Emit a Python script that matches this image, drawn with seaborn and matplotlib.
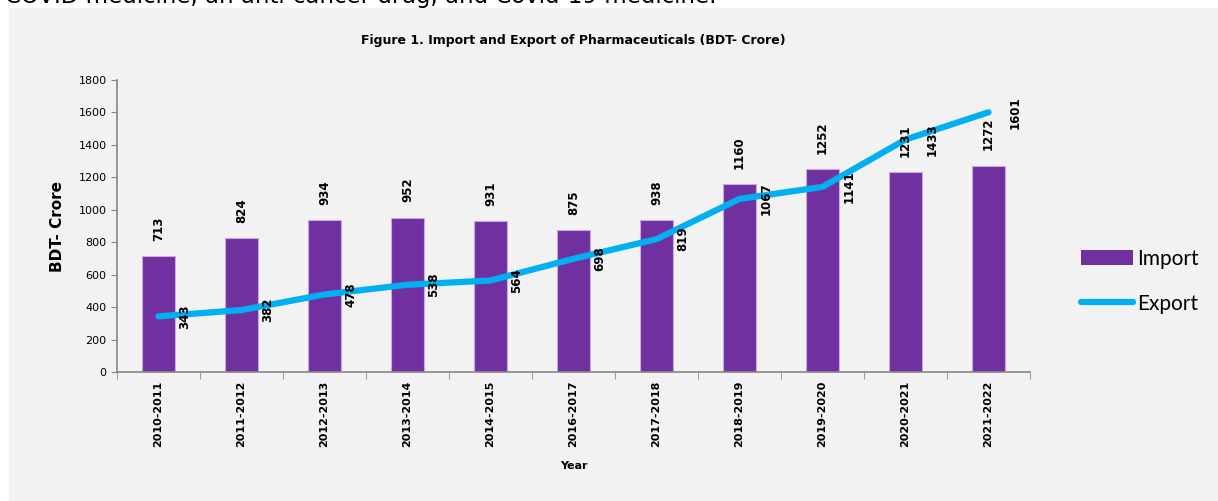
import matplotlib
matplotlib.use("Agg")
import matplotlib.pyplot as plt
from matplotlib.patches import Rectangle, Patch
from matplotlib.lines import Line2D
import pandas as pd
import seaborn as sns

# chart data
years = ["2010-2011", "2011-2012", "2012-2013", "2013-2014", "2014-2015", "2016-2017",
         "2017-2018", "2018-2019", "2019-2020", "2020-2021", "2021-2022"]
imports = [713, 824, 934, 952, 931, 875, 938, 1160, 1252, 1231, 1272]
exports = [343, 382, 478, 538, 564, 698, 819, 1067, 1141, 1433, 1601]

df = pd.DataFrame({"Year": years, "Import": imports, "Export": exports})

bg = "#f2f2f2"
bar_color = "#7030a0"
line_color = "#00b0f0"
axis_grey = "#868686"

sns.set_style("white", {"axes.facecolor": bg})
plt.rcParams["font.family"] = ["DejaVu Sans"]
plt.rcParams["text.color"] = "black"
plt.rcParams["axes.labelcolor"] = "black"

fig = plt.figure(figsize=(12.18, 5.01), dpi=100, facecolor="white")
fig.patches.append(Rectangle((9 / 1218, 0), 1, (501 - 8) / 501, transform=fig.transFigure,
                             facecolor=bg, edgecolor="none", zorder=-10))
ax = fig.add_axes([117 / 1218, (501 - 372) / 501, (1030 - 117) / 1218, (372 - 80) / 501])
ax.set_facecolor(bg)

# cut-off text from the page above the figure
fig.text(5 / 1218, 1 - 3 / 501, "COVID medicine, an anti-cancer drug, and Covid-19 medicine.",
         fontsize=16.5, va="baseline", ha="left", color="black")

sns.barplot(data=df, x="Year", y="Import", color=bar_color, width=0.4,
            edgecolor="#c9a8e6", linewidth=0.8, saturation=1, ax=ax, zorder=2)
sns.lineplot(data=df, x="Year", y="Export", color=line_color, linewidth=4.5,
             sort=False, ax=ax, zorder=3, solid_capstyle="round")

for i, v in enumerate(imports):
    ax.annotate(str(v), (i, v), xytext=(0, 11), textcoords="offset points",
                rotation=90, ha="center", va="bottom", fontsize=8.5, fontweight="bold")
for i, v in enumerate(exports):
    ax.annotate(str(v), (i, v), xytext=(19, 0), textcoords="offset points",
                rotation=90, ha="center", va="center", fontsize=8.5, fontweight="bold")

ax.set_xlim(-0.5, len(years) - 0.5)
ax.set_ylim(0, 1800)
ax.set_yticks(range(0, 1801, 200))
ax.tick_params(axis="y", labelsize=8, length=4, color=axis_grey, labelcolor="black",
               direction="out", left=True)
ax.set_xticks(range(len(years)))
ax.set_xticklabels(years, rotation=90, fontsize=8, fontweight="bold")
ax.tick_params(axis="x", length=0, pad=6, labelcolor="black")
# category boundary ticks like the original
ax.set_xticks([i - 0.5 for i in range(len(years) + 1)], minor=True)
ax.tick_params(axis="x", which="minor", length=5, color=axis_grey, bottom=True)

for s in ["top", "right"]:
    ax.spines[s].set_visible(False)
for s in ["left", "bottom"]:
    ax.spines[s].set_color(axis_grey)
    ax.spines[s].set_linewidth(1.2)

ax.set_ylabel("BDT- Crore", fontsize=11, fontweight="bold", labelpad=10)
ax.set_xlabel("Year", fontsize=8, fontweight="bold", labelpad=10)
ax.set_title("Figure 1. Import and Export of Pharmaceuticals (BDT- Crore)",
             fontsize=9, fontweight="bold", pad=26)

handles = [Patch(facecolor=bar_color, edgecolor="none"),
           Line2D([0], [0], color=line_color, linewidth=4.5, solid_capstyle="round")]
fig.legend(handles, ["Import", "Export"], loc="center left",
           bbox_to_anchor=(1062 / 1218, 1 - 281 / 501), frameon=False,
           prop={"family": "Lato", "size": 15}, handlelength=2.5, handletextpad=0.2,
           labelspacing=1.2, labelcolor="black")

fig.savefig("out.png", dpi=100, facecolor=fig.get_facecolor())
